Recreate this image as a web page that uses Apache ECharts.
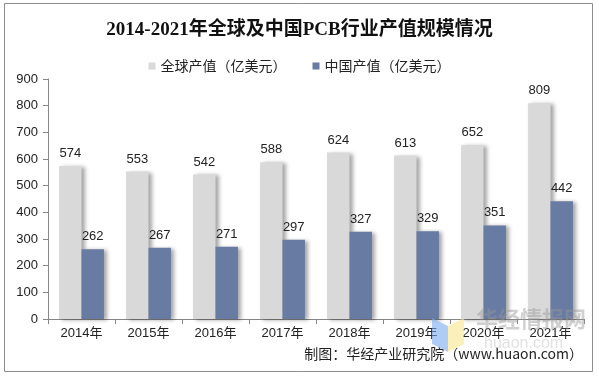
<!DOCTYPE html>
<html><head><meta charset="utf-8">
<script src="https://cdn.jsdelivr.net/npm/echarts@6/dist/echarts.min.js"></script>
<style>html,body{margin:0;padding:0;background:#fff}#c{width:599px;height:378px}</style>
</head><body><div id="c"></div>
<script>
var categories = ['2014年','2015年','2016年','2017年','2018年','2019年','2020年','2021年'];
var globalValues = [574,553,542,588,624,613,652,809];
var chinaValues = [262,267,271,297,327,329,351,442];
var seriesNames = ['全球产值（亿美元）','中国产值（亿美元）'];
var titleText = '2014-2021年全球及中国PCB行业产值规模情况';
var sourceText = '制图：华经产业研究院（www.huaon.com）';

var chart = echarts.init(document.getElementById('c'));
var shadow = {shadowColor:'rgba(0,0,0,0.35)',shadowBlur:4,shadowOffsetX:3,shadowOffsetY:1};
var lbl = {show:true,position:'top',distance:6,color:'#222',fontSize:13,fontFamily:'Liberation Sans, Arial, sans-serif'};
chart.setOption({
  animation:false,
  title:{text:titleText,left:'center',top:16,textStyle:{fontFamily:'"Liberation Serif", "Noto Sans CJK SC", serif',fontSize:19,fontWeight:'bold',color:'#111'}},
  legend:{top:54,left:'center',itemWidth:7,itemHeight:7,itemGap:26,icon:'rect',
    textStyle:{fontSize:14,color:'#222',fontFamily:'"Noto Sans CJK SC", sans-serif'}},
  grid:{left:48,right:15,top:79,bottom:59,containLabel:false},
  xAxis:{type:'category',data:categories,
    axisLine:{lineStyle:{color:'#868686'}},
    axisTick:{show:true,length:5,lineStyle:{color:'#868686'}},
    axisLabel:{color:'#222',fontSize:13,margin:8,fontFamily:'Liberation Sans, "Noto Sans CJK SC", sans-serif'}},
  yAxis:{type:'value',min:0,max:900,interval:100,
    axisLine:{show:true,lineStyle:{color:'#868686'}},
    axisTick:{show:true,length:5,lineStyle:{color:'#868686'}},
    splitLine:{show:false},
    axisLabel:{color:'#222',fontSize:13,margin:10,fontFamily:'Liberation Sans, Arial, sans-serif'}},
  series:[
    {name:seriesNames[0],type:'bar',data:globalValues,barGap:'0%',barCategoryGap:'33%',
      itemStyle:Object.assign({color:'#d9d9d9'},shadow),label:lbl},
    {name:seriesNames[1],type:'bar',data:chinaValues,
      itemStyle:Object.assign({color:'#687ba2'},shadow),label:lbl}
  ],
  graphic:[
    {type:'rect',shape:{x:4.5,y:3.5,width:588,height:368},style:{fill:null,stroke:'#8c8c8c',lineWidth:1},silent:true,z:-1},
    {type:'text',right:16,top:347,style:{text:sourceText,fontSize:14,fill:'#222',fontFamily:'"Noto Sans CJK SC", sans-serif'}},
    {type:'text',left:476,top:308,style:{text:'华经情报网',fontSize:22,fontWeight:'bold',fill:'rgba(150,150,150,0.45)',fontFamily:'"Noto Sans CJK SC", sans-serif'},z:10},
    {type:'text',left:484,top:336,style:{text:'huaon.com',fontSize:16,fill:'rgba(170,170,170,0.35)',fontFamily:'Liberation Sans, sans-serif'},z:10},
    {type:'polygon',shape:{points:[[432,318],[448,326],[448,352],[432,344]]},style:{fill:'rgba(120,170,240,0.6)'},z:9},
    {type:'polygon',shape:{points:[[448,326],[464,318],[464,344],[448,352]]},style:{fill:'rgba(250,230,140,0.6)'},z:9}
  ]
});
</script></body></html>
